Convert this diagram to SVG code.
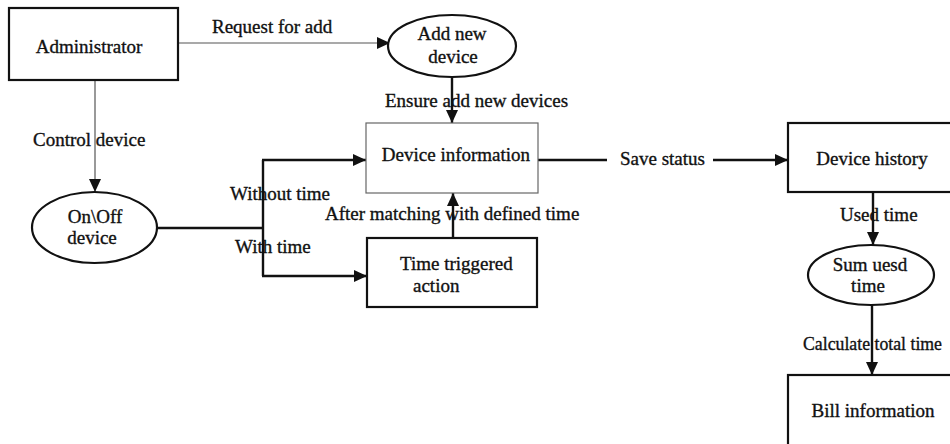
<svg xmlns="http://www.w3.org/2000/svg" width="950" height="444" viewBox="0 0 950 444">
<style>
text{font-family:"Liberation Serif","Times New Roman",serif;font-size:19px;fill:#111;stroke:#111;stroke-width:0.35;}
.c{text-anchor:middle;}
.box{fill:#fff;stroke:#111;stroke-width:2.2;}
.thinbox{fill:#fff;stroke:#666;stroke-width:1.2;}
.ell{fill:#fff;stroke:#111;stroke-width:2.2;}
.ln{fill:none;stroke:#111;stroke-width:2.4;}
.thin{fill:none;stroke:#555;stroke-width:1.2;}
</style>
<defs>
<marker id="ah" markerUnits="userSpaceOnUse" markerWidth="14" markerHeight="14" refX="13" refY="7" orient="auto">
<path d="M0,1 L13,7 L0,13 z" fill="#111"/>
</marker>
</defs>
<g id="connectors">
<path class="thin" d="M178,43 H390" marker-end="url(#ah)"/>
<path class="thin" d="M95,80 V192" marker-end="url(#ah)"/>
<path class="ln" d="M452,77 V123" marker-end="url(#ah)"/>
<path class="ln" d="M157,228 H263"/>
<path class="ln" d="M263,160 V276"/>
<path class="ln" d="M262,160 H366" marker-end="url(#ah)"/>
<path class="ln" d="M262,276 H367" marker-end="url(#ah)"/>
<path class="ln" d="M453,238 V193" marker-end="url(#ah)"/>
<path class="ln" d="M538,160 H607"/>
<path class="ln" d="M713,160 H788" marker-end="url(#ah)"/>
<path class="ln" d="M873,192 V245" marker-end="url(#ah)"/>
<path class="ln" d="M872,305 V375" marker-end="url(#ah)"/>
<text x="212" y="33">Request for add</text>
<text x="33" y="146">Control device</text>
<text x="385" y="107">Ensure add new devices</text>
<text x="230" y="200">Without time</text>
<text x="235" y="253">With time</text>
<text x="325" y="220">After matching with defined time</text>
<text x="620" y="165">Save status</text>
<text x="840" y="221">Used time</text>
<text x="803" y="350" textLength="139" lengthAdjust="spacingAndGlyphs">Calculate total time</text>
</g>
<g id="administrator">
<rect class="box" x="9" y="8" width="169" height="72"/>
<text class="c" x="89" y="53">Administrator</text>
</g>
<g id="add-new-device">
<ellipse class="ell" cx="452" cy="46" rx="64" ry="31"/>
<text class="c" x="452" y="40">Add new</text>
<text class="c" x="453" y="63">device</text>
</g>
<g id="device-information">
<rect class="thinbox" x="366" y="123" width="172" height="70"/>
<text class="c" x="456" y="161">Device information</text>
</g>
<g id="on-off-device">
<ellipse class="ell" cx="94.5" cy="227.5" rx="62.5" ry="35.5"/>
<text class="c" x="95" y="223">On\Off</text>
<text class="c" x="92" y="244">device</text>
</g>
<g id="time-triggered-action">
<rect class="box" x="367" y="238" width="170" height="69"/>
<text x="400" y="270">Time triggered</text>
<text x="413" y="292">action</text>
</g>
<g id="device-history">
<rect class="box" x="788" y="123" width="172" height="69"/>
<text class="c" x="872" y="165">Device history</text>
</g>
<g id="sum-used-time">
<ellipse class="ell" cx="871" cy="275" rx="63" ry="30"/>
<text class="c" x="870" y="271">Sum uesd</text>
<text class="c" x="868" y="292">time</text>
</g>
<g id="bill-information">
<rect class="box" x="788" y="375" width="172" height="80"/>
<text class="c" x="873" y="417">Bill information</text>
</g>
</svg>
